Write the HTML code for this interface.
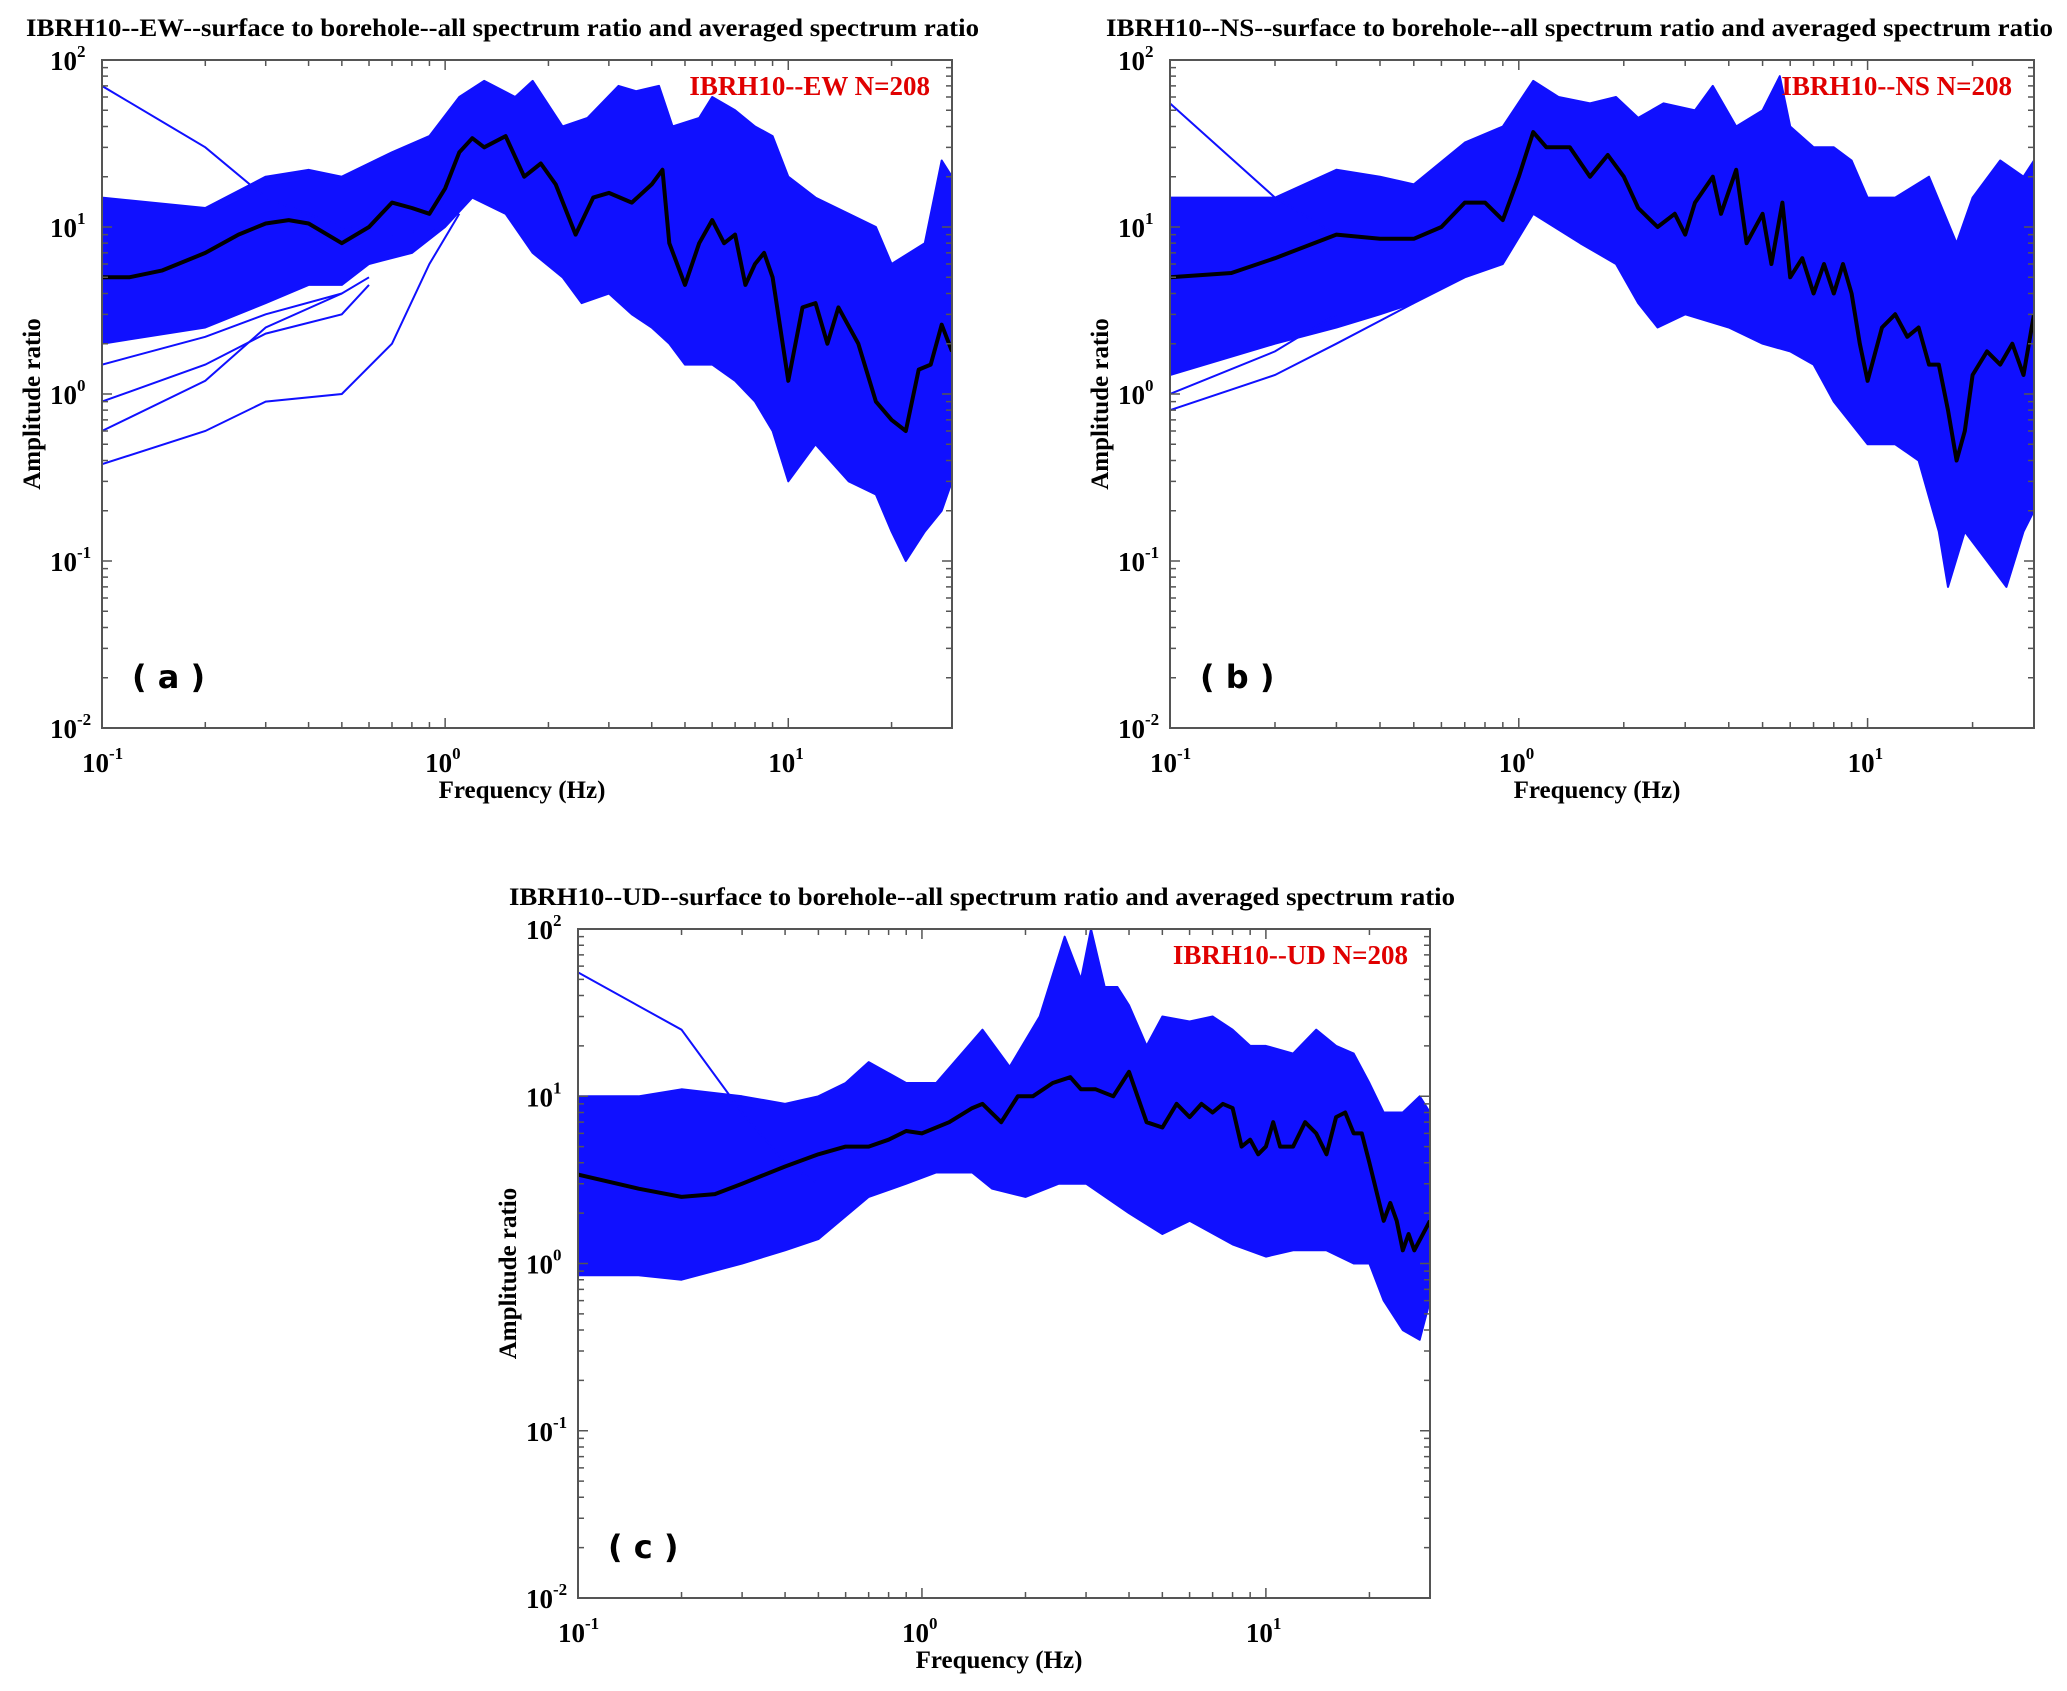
<!DOCTYPE html>
<html><head><meta charset="utf-8">
<style>
html,body{margin:0;padding:0;background:#fff;}
svg{display:block;}
text{font-family:"Liberation Serif",serif;font-weight:bold;}
</style></head>
<body>
<svg id="fig" width="2067" height="1691" viewBox="0 0 2067 1691" xmlns="http://www.w3.org/2000/svg"></svg>
<script>
// ---- Panel (a) EW ----
const aMeanF=[0.1,0.12,0.15,0.2,0.25,0.3,0.35,0.4,0.5,0.6,0.7,0.8,0.9,1.0,1.1,1.2,1.3,1.5,1.7,1.9,2.1,2.4,2.7,3.0,3.5,4.0,4.3,4.5,5,5.5,6,6.5,7,7.5,8,8.5,9,10,11,12,13,14,16,18,20,22,24,26,28,30];
const aMeanV=[5,5,5.5,7,9,10.5,11,10.5,8,10,14,13,12,17,28,34,30,35,20,24,18,9,15,16,14,18,22,8,4.5,8,11,8,9,4.5,6,7,5,1.2,3.3,3.5,2,3.3,2,0.9,0.7,0.6,1.4,1.5,2.6,1.8];
const aUpF=[0.1,0.2,0.3,0.4,0.5,0.7,0.9,1.1,1.3,1.6,1.8,2.2,2.6,3.2,3.6,4.2,4.6,5.5,6,7,8,9,10,12,15,18,20,25,28,30];
const aUpV=[15,13,20,22,20,28,35,60,75,60,75,40,45,70,65,70,40,45,60,50,40,35,20,15,12,10,6,8,25,20];
const aLoF=[0.1,0.2,0.3,0.4,0.5,0.6,0.8,1.0,1.2,1.5,1.8,2.2,2.5,3,3.5,4,4.5,5,6,7,8,9,10,12,15,18,20,22,25,28,30];
const aLoV=[2,2.5,3.5,4.5,4.5,6,7,10,15,12,7,5,3.5,4,3,2.5,2,1.5,1.5,1.2,0.9,0.6,0.3,0.5,0.3,0.25,0.15,0.1,0.15,0.2,0.3];
const aOut1F=[0.1,0.2,0.3,0.5,0.7,1.0]; const aOut1V=[70,30,15,10,9,10];
const aOut2F=[0.1,0.2,0.3,0.5,0.7,0.9,1.1]; const aOut2V=[0.38,0.6,0.9,1.0,2,6,12];
const aOut3F=[0.1,0.2,0.3,0.5,0.6]; const aOut3V=[0.6,1.2,2.5,4,5];
const aOut4F=[0.1,0.2,0.3,0.5,0.6]; const aOut4V=[0.9,1.5,2.3,3,4.5];
const aOut5F=[0.1,0.2,0.3,0.5]; const aOut5V=[1.5,2.2,3,4];
// ---- Panel (b) NS ----
const bMeanF=[0.1,0.15,0.2,0.3,0.4,0.5,0.6,0.7,0.8,0.9,1.0,1.1,1.2,1.4,1.6,1.8,2.0,2.2,2.5,2.8,3,3.2,3.6,3.8,4.2,4.5,5,5.3,5.7,6,6.5,7,7.5,8,8.5,9,9.5,10,11,12,13,14,15,16,17,18,19,20,22,24,26,28,30];
const bMeanV=[5,5.3,6.5,9,8.5,8.5,10,14,14,11,20,37,30,30,20,27,20,13,10,12,9,14,20,12,22,8,12,6,14,5,6.5,4,6,4,6,4,2,1.2,2.5,3,2.2,2.5,1.5,1.5,0.8,0.4,0.6,1.3,1.8,1.5,2,1.3,3];
const bUpF=[0.1,0.2,0.3,0.4,0.5,0.7,0.9,1.1,1.3,1.6,1.9,2.2,2.6,3.2,3.6,4.2,5,5.6,6,7,8,9,10,12,15,18,20,24,28,30];
const bUpV=[15,15,22,20,18,32,40,75,60,55,60,45,55,50,70,40,50,80,40,30,30,25,15,15,20,8,15,25,20,25];
const bLoF=[0.1,0.2,0.3,0.4,0.5,0.7,0.9,1.1,1.5,1.9,2.2,2.5,3,4,5,6,7,8,10,12,14,16,17,19,22,25,28,30];
const bLoV=[1.3,2,2.5,3,3.5,5,6,12,8,6,3.5,2.5,3,2.5,2,1.8,1.5,0.9,0.5,0.5,0.4,0.15,0.07,0.15,0.1,0.07,0.15,0.2];
const bOut1F=[0.1,0.2,0.3,0.4]; const bOut1V=[55,15,9,8];
const bOut2F=[0.1,0.2,0.3,0.5]; const bOut2V=[0.8,1.3,2,3.5];
const bOut3F=[0.1,0.2,0.3]; const bOut3V=[1.0,1.8,3];
// ---- Panel (c) UD ----
const cMeanF=[0.1,0.15,0.2,0.25,0.3,0.4,0.5,0.6,0.7,0.8,0.9,1.0,1.2,1.4,1.5,1.7,1.9,2.1,2.4,2.7,2.9,3.2,3.6,4.0,4.5,5,5.5,6,6.5,7,7.5,8,8.5,9,9.5,10,10.5,11,12,13,14,15,16,17,18,19,20,22,23,24,25,26,27,30];
const cMeanV=[3.4,2.8,2.5,2.6,3,3.8,4.5,5,5,5.5,6.2,6,7,8.5,9,7,10,10,12,13,11,11,10,14,7,6.5,9,7.5,9,8,9,8.5,5,5.5,4.5,5,7,5,5,7,6,4.5,7.5,8,6,6,4,1.8,2.3,1.8,1.2,1.5,1.2,1.8];
const cUpF=[0.1,0.15,0.2,0.3,0.4,0.5,0.6,0.7,0.9,1.1,1.5,1.8,2.2,2.6,2.9,3.1,3.4,3.7,4,4.5,5,6,7,8,9,10,12,14,16,18,20,22,25,28,30];
const cUpV=[10,10,11,10,9,10,12,16,12,12,25,15,30,90,50,100,45,45,35,20,30,28,30,25,20,20,18,25,20,18,12,8,8,10,8];
const cLoF=[0.1,0.15,0.2,0.3,0.4,0.5,0.7,0.9,1.1,1.4,1.6,2,2.5,3,4,5,6,8,10,12,15,18,20,22,25,28,30];
const cLoV=[0.85,0.85,0.8,1.0,1.2,1.4,2.5,3,3.5,3.5,2.8,2.5,3,3,2,1.5,1.8,1.3,1.1,1.2,1.2,1.0,1.0,0.6,0.4,0.35,0.6];
const cOut1F=[0.1,0.2,0.3,0.4,0.5]; const cOut1V=[55,25,8,4,3];
// shared tick arrays
const xTickExp=[-1,0,1];
const yTickExp=[2,1,0,-1,-2];

const NS="http://www.w3.org/2000/svg";
const svg=document.getElementById('fig');
function mk(tag,attrs,parent){const e=document.createElementNS(NS,tag);for(const k in attrs)e.setAttribute(k,attrs[k]);(parent||svg).appendChild(e);return e;}

function panel(cfg){
  const g=mk('g',{});
  
  
  const L=cfg.L,R=cfg.R,T=cfg.T,B=cfg.B;
  const xmin=-1,xmax=Math.log10(30);
  const X=f=>L+(Math.log10(f)-xmin)/(xmax-xmin)*(R-L);
  const Y=v=>B-(Math.log10(v)+2)/4*(B-T);
  const cid='clip'+cfg.id;
  const cp=mk('clipPath',{id:cid},g); mk('rect',{x:L,y:T,width:R-L,height:B-T},cp);
  const pg=mk('g',{'clip-path':'url(#'+cid+')'},g);
  let d='';
  cfg.upF.forEach((f,i)=>{d+=(i?'L':'M')+X(f).toFixed(1)+' '+Y(cfg.upV[i]).toFixed(1);});
  for(let i=cfg.loF.length-1;i>=0;i--) d+='L'+X(cfg.loF[i]).toFixed(1)+' '+Y(cfg.loV[i]).toFixed(1);
  const band=mk('path',{d:d+'Z',fill:'#1010ff',stroke:'#1010ff','stroke-width':2,'stroke-linejoin':'round'},pg);
  
  
  cfg.outs.forEach((o)=>{
    const p=mk('path',{d:o[0].map((f,i)=>(i?'L':'M')+X(f).toFixed(1)+' '+Y(o[1][i]).toFixed(1)).join(''),fill:'none',stroke:'#1010ff','stroke-width':2},pg);
    
    
  });
  const m=mk('path',{d:cfg.mF.map((f,i)=>(i?'L':'M')+X(f).toFixed(1)+' '+Y(cfg.mV[i]).toFixed(1)).join(''),fill:'none',stroke:'#000','stroke-width':4,'stroke-linejoin':'round'},pg);
  
  
  const box=mk('rect',{x:L,y:T,width:R-L,height:B-T,fill:'none',stroke:'#555','stroke-width':2},g);
  
  
  let td='';
  for(let e=-1;e<=1;e++)for(let k=1;k<=9;k++){const f=k*Math.pow(10,e);if(f>30)break;const x=X(f);const len=k===1?10:6;td+=`M${x} ${B}v-${len}M${x} ${T}v${len}`;}
  for(let e=-2;e<2;e++)for(let k=1;k<=9;k++){const y=Y(k*Math.pow(10,e));const len=k===1?10:6;td+=`M${L} ${y}h${len}M${R} ${y}h-${len}`;}
  mk('path',{d:td,stroke:'#555','stroke-width':1.5,fill:'none'},g);
  xTickExp.forEach(e=>{
    const t=mk('text',{x:X(Math.pow(10,e))-20,y:B+44,'font-size':27},g);
    
    
    t.innerHTML='10<tspan dy="-13" font-size="17">'+e+'</tspan>';
  });
  yTickExp.forEach(e=>{
    const t=mk('text',{x:L-52,y:Y(Math.pow(10,e))+10,'font-size':27},g);
    
    
    t.innerHTML='10<tspan dy="-13" font-size="17">'+e+'</tspan>';
  });
  const xl=mk('text',{x:(L+R)/2-5,y:B+70,'font-size':25,'text-anchor':'middle'},g);
  
  
  xl.textContent='Frequency (Hz)';
  const yl=mk('text',{x:0,y:0,'font-size':25,'text-anchor':'middle',transform:`translate(${L-62},${(T+B)/2+10}) rotate(-90)`},g);
  
  
  yl.textContent='Amplitude ratio';
  const tt=mk('text',{x:cfg.tx,y:T-24,'font-size':25,textLength:cfg.tw,lengthAdjust:'spacingAndGlyphs'},g);
  
  
  tt.textContent=cfg.title;
  const lg=mk('text',{x:R-22,y:T+35,'font-size':27,fill:'#e00000','text-anchor':'end'},g);
  
  
  lg.setAttribute('xml:space','preserve');
  lg.textContent=cfg.leg;
  const pl=mk('text',{x:L+30,y:B-40,'font-size':32,style:'font-family:"DejaVu Sans",sans-serif'},g);
  
  
  pl.textContent=cfg.pl;
}
panel({id:'a',name:'panel-a-ew',L:102,R:952,T:60,B:728,mF:aMeanF,mV:aMeanV,upF:aUpF,upV:aUpV,loF:aLoF,loV:aLoV,
  outs:[[aOut1F,aOut1V],[aOut2F,aOut2V],[aOut3F,aOut3V],[aOut4F,aOut4V],[aOut5F,aOut5V]],
  tx:26,tw:953,title:'IBRH10--EW--surface to borehole--all spectrum ratio and averaged spectrum ratio',leg:'IBRH10--EW  N=208',pl:'( a )'});
panel({id:'b',name:'panel-b-ns',L:1170,R:2034,T:60,B:728,mF:bMeanF,mV:bMeanV,upF:bUpF,upV:bUpV,loF:bLoF,loV:bLoV,
  outs:[[bOut1F,bOut1V],[bOut2F,bOut2V],[bOut3F,bOut3V]],
  tx:1106,tw:947,title:'IBRH10--NS--surface to borehole--all spectrum ratio and averaged spectrum ratio',leg:'IBRH10--NS  N=208',pl:'( b )'});
panel({id:'c',name:'panel-c-ud',L:578,R:1430,T:929,B:1598,mF:cMeanF,mV:cMeanV,upF:cUpF,upV:cUpV,loF:cLoF,loV:cLoV,
  outs:[[cOut1F,cOut1V]],
  tx:509,tw:946,title:'IBRH10--UD--surface to borehole--all spectrum ratio and averaged spectrum ratio',leg:'IBRH10--UD  N=208',pl:'( c )'});
</script>
</body></html>
